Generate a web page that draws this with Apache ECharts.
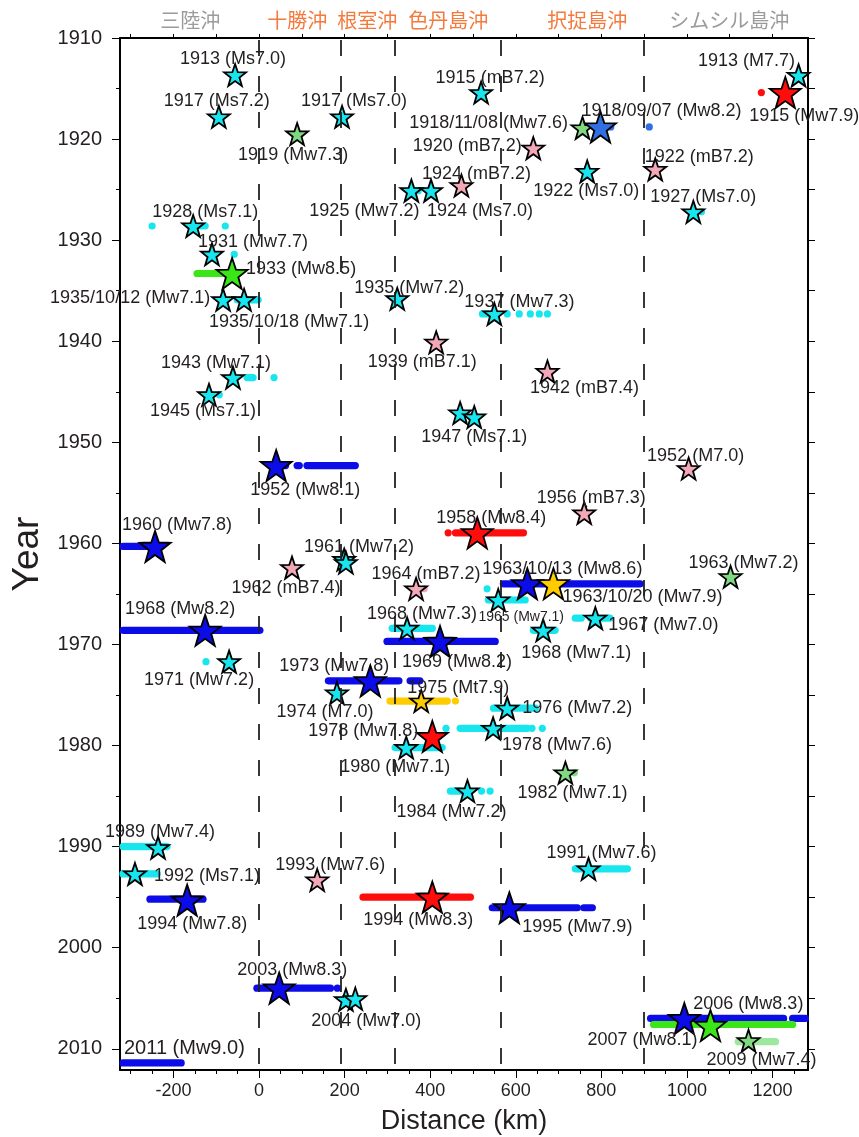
<!DOCTYPE html>
<html>
<head>
<meta charset="utf-8">
<script src="https://cdn.jsdelivr.net/npm/echarts@6/dist/echarts.min.js"></script>
<style>
html, body { margin: 0; padding: 0; background: #fff; }
#chart { width: 859px; height: 1137px; }
</style>
</head>
<body>
<div id="chart"></div>
<script>
// --- data ---
const eventYear = [
  1913.66, 1917.8, 1919.5, 1917.8, 1915.4,
  1918.9, 1918.8, 1920.9, 1923.2, 1923.0,
  1913.7, 1915.4, 1924.6, 1925.1, 1925.1,
  1927.2, 1928.6, 1931.4, 1933.3, 1935.9,
  1935.9, 1935.8, 1937.3, 1940.1, 1943.0,
  1943.6, 1945.3, 1947.1, 1947.5, 1952.3,
  1952.6, 1957.0, 1958.96, 1960.3, 1961.6,
  1961.9, 1962.4, 1964.5, 1964.0, 1964.0,
  1963.3, 1965.6, 1967.4, 1968.6, 1968.4,
  1968.6, 1969.7, 1971.7, 1973.6, 1974.8,
  1975.6, 1976.3, 1979.1, 1978.3, 1980.2,
  1982.7, 1984.5, 1990.1, 1992.7, 1993.3,
  1995.3, 1995.0, 1996.05, 1992.2, 2004.0,
  2005.15, 2005.05, 2007.0, 2007.7, 2009.2
];
const eventDist = [
  -56, -94, 89, 194, 519,
  756, 798, 641, 767, 926,
  1261, 1230, 473, 356, 402,
  1015, -154, -110, -63, -84,
  -35, 323, 550, 414, 674,
  -61, -117, 470, 503, 40,
  1004, 760, 510, -243, 199,
  203, 77, 367, 627, 688,
  1102, 559, 786, 664, 346,
  -126, 423, -70, 260, 182,
  379, 580, 405, 547, 344,
  716, 487, -236, -290, 136,
  -168, 405, 585, 770, 47,
  203, 225, 994, 1055, 1144
];
const eventLabel = [
  '1913 (Ms7.0)', '1917 (Ms7.2)', '1919 (Mw7.3)', '1917 (Ms7.0)', '1915 (mB7.2)',
  '1918/11/08 (Mw7.6)', '1918/09/07 (Mw8.2)', '1920 (mB7.2)', '1922 (Ms7.0)', '1922 (mB7.2)',
  '1913 (M7.7)', '1915 (Mw7.9)', '1924 (mB7.2)', '1925 (Mw7.2)', '1924 (Ms7.0)',
  '1927 (Ms7.0)', '1928 (Ms7.1)', '1931 (Mw7.7)', '1933 (Mw8.5)', '1935/10/12 (Mw7.1)',
  '1935/10/18 (Mw7.1)', '1935 (Mw7.2)', '1937 (Mw7.3)', '1939 (mB7.1)', '1942 (mB7.4)',
  '1943 (Mw7.1)', '1945 (Ms7.1)', '', '1947 (Ms7.1)', '1952 (Mw8.1)',
  '1952 (M7.0)', '1956 (mB7.3)', '1958 (Mw8.4)', '1960 (Mw7.8)', '',
  '1961 (Mw7.2)', '1962 (mB7.4)', '1964 (mB7.2)', '1963/10/13 (Mw8.6)', '1963/10/20 (Mw7.9)',
  '1963 (Mw7.2)', '1965 (Mw7.1)', '1967 (Mw7.0)', '1968 (Mw7.1)', '1968 (Mw7.3)',
  '1968 (Mw8.2)', '1969 (Mw8.2)', '1971 (Mw7.2)', '1973 (Mw7.8)', '1974 (M7.0)',
  '1975 (Mt7.9)', '1976 (Mw7.2)', '1978 (Mw7.8)', '1978 (Mw7.6)', '1980 (Mw7.1)',
  '1982 (Mw7.1)', '1984 (Mw7.2)', '1989 (Mw7.4)', '1992 (Ms7.1)', '1993 (Mw7.6)',
  '1994 (Mw7.8)', '1994 (Mw8.3)', '1995 (Mw7.9)', '1991 (Mw7.6)', '2003 (Mw8.3)',
  '', '2004 (Mw7.0)', '2006 (Mw8.3)', '2007 (Mw8.1)', '2009 (Mw7.4)'
];
const eventGroup = [
  'C', 'C', 'L', 'C', 'C',
  'L', 'B', 'P', 'C', 'P',
  'C', 'R', 'P', 'C', 'C',
  'C', 'C', 'C', 'G', 'C',
  'C', 'C', 'C', 'P', 'P',
  'C', 'C', 'C', 'C', 'D',
  'P', 'P', 'R', 'D', 'C',
  'C', 'P', 'P', 'D', 'Y',
  'L', 'C', 'C', 'C', 'C',
  'D', 'D', 'C', 'D', 'C',
  'Y', 'C', 'R', 'C', 'C',
  'L', 'C', 'C', 'C', 'P',
  'D', 'R', 'D', 'C', 'D',
  'C', 'C', 'D', 'G', 'L'
];

// rupture extents: [from km, to km, year, group]
const ruptures = [
  [812, 822, 1918.8, 'B'], [912, 912, 1918.8, 'B'],
  [1174, 1174, 1915.4, 'R'],
  [365, 372, 1925.1, 'C'],
  [1034, 1034, 1927.2, 'C'],
  [-250, -250, 1928.6, 'C'], [-138, -126, 1928.6, 'C'], [-79, -79, 1928.6, 'C'],
  [-58, -58, 1931.4, 'C'],
  [-145, -79, 1933.3, 'G'],
  [-51, -2, 1935.9, 'C'],
  [522, 550, 1937.3, 'C'], [580, 580, 1937.3, 'C'], [608, 608, 1937.3, 'C'],
  [634, 634, 1937.3, 'C'], [655, 655, 1937.3, 'C'], [674, 674, 1937.3, 'C'],
  [-28, -14, 1943.6, 'C'], [35, 35, 1943.6, 'C'],
  [-93, -93, 1945.3, 'C'],
  [50, 62, 1952.3, 'D'], [89, 94, 1952.3, 'D'], [112, 225, 1952.3, 'D'],
  [442, 442, 1958.96, 'R'], [459, 618, 1958.96, 'R'],
  [-318, -255, 1960.3, 'D'],
  [571, 891, 1964.0, 'D'],
  [386, 386, 1964.5, 'P'],
  [536, 622, 1965.6, 'C'], [533, 533, 1964.5, 'C'],
  [739, 753, 1967.4, 'C'], [775, 820, 1967.4, 'C'],
  [641, 692, 1968.6, 'C'],
  [311, 405, 1968.4, 'C'],
  [-318, 2, 1968.6, 'D'],
  [299, 552, 1969.7, 'D'],
  [-124, -124, 1971.7, 'C'],
  [162, 327, 1973.6, 'D'], [353, 376, 1973.6, 'D'],
  [306, 440, 1975.6, 'Y'], [459, 459, 1975.6, 'Y'],
  [548, 646, 1976.3, 'C'],
  [437, 437, 1978.3, 'C'], [470, 627, 1978.3, 'C'], [638, 638, 1978.3, 'C'], [662, 662, 1978.3, 'C'],
  [318, 428, 1980.2, 'C'],
  [737, 737, 1982.7, 'L'],
  [447, 470, 1984.5, 'C'], [520, 520, 1984.5, 'C'], [540, 540, 1984.5, 'C'],
  [-318, -215, 1990.0, 'C'],
  [-318, -238, 1992.7, 'C'],
  [-255, -131, 1995.2, 'D'],
  [243, 494, 1995.0, 'R'],
  [545, 744, 1996.05, 'D'], [759, 779, 1996.05, 'D'],
  [739, 861, 1992.2, 'C'],
  [-5, 167, 2004.0, 'D'], [183, 183, 2004.0, 'D'],
  [915, 1226, 2007.0, 'D'], [1247, 1277, 2007.0, 'D'],
  [922, 1247, 2007.6, 'G'],
  [1120, 1207, 2009.3, 'LP'],
  [-318, -182, 2011.4, 'D']
];
const tohokuLabel = '2011 (Mw9.0)';

const boundaryKm = [0, 190, 316, 564, 898];
const regionNames = ['三陸沖', '十勝沖', '根室沖', '色丹島沖', '択捉島沖', 'シムシル島沖'];
const regionCenterKm = [-161, 89, 253, 442, 767, 1099];

const distTicks = [-200, 0, 200, 400, 600, 800, 1000, 1200];
const distMinorTicks = [-300, -250, -150, -100, -50, 50, 100, 150, 250, 300, 350, 450, 500, 550,
  650, 700, 750, 850, 900, 950, 1050, 1100, 1150, 1250];
const topTicks = [-300, -200, -100, 0, 100, 200, 300, 400, 500, 600, 700, 800, 900, 1000, 1100, 1200];
const yearTicks = [1910, 1920, 1930, 1940, 1950, 1960, 1970, 1980, 1990, 2000, 2010];
const yearMinorTicks = [1915, 1925, 1935, 1945, 1955, 1965, 1975, 1985, 1995, 2005];
const yearRightTicks = [1910, 1915, 1920, 1925, 1930, 1935, 1940, 1945, 1950, 1955, 1960,
  1965, 1970, 1975, 1980, 1985, 1990, 1995, 2000, 2005, 2010];

// --- styles ---
const groupColor = {
  C: '#18e6ee', L: '#80d980', P: '#f3a8b7', B: '#2f6fe2', D: '#0c0ce8',
  R: '#ff0d0d', G: '#3ae617', Y: '#ffcc00', LP: '#9de89d'
};
// label offsets from the star centre, px
const labelOffset = [
  [-2, -16], [-2, -16], [-4, 21], [12, -16], [9, -15],
  [-94, -5], [61, -16], [-66, -2], [-1, 20], [44, -12],
  [-52, -14], [19, 23], [15, -12], [-47, 20], [49, 20],
  [10, -15], [12, -14], [41, -12], [69, -4], [-93, -2],
  [45, 22], [12, -11], [25, -12], [-14, 20], [37, 16],
  [-17, -15], [-6, 16], [0, 0], [0, 20], [29, 24],
  [7, -13], [7, -15], [14, -15], [22, -21], [0, 0],
  [13, -16], [-6, 20], [10, -15], [35, -15], [89, 13],
  [13, -14], [23, 17], [68, 7], [33, 23], [15, -14],
  [-25, -21], [17, 21], [-30, 18], [-36, -15], [-12, 19],
  [37, -13], [70, 0], [-69, -5], [64, 17], [-11, 19],
  [7, 20], [-16, 21], [2, -16], [72, 2], [13, -15],
  [5, 24], [-14, 23], [68, 19], [13, -16], [13, -18],
  [0, 0], [11, 22], [64, -14], [-68, 15], [13, 19]
];
const TEXT = '#231f20';
const FONT = 'Liberation Sans';
const STAR = 'path://M0,-10L2.35,-3.24L9.51,-3.09L3.8,1.24L5.88,8.09L0,4L-5.88,8.09L-3.8,1.24L-9.51,-3.09L-2.35,-3.24Z';
const X_MIN = -325, X_MAX = 1283, Y_MIN = 1910, Y_MAX = 2012.1;

function starSize(label) {
  const m = /\((Mw|Ms|mB|Mt|M)(\d\.\d)\)/.exec(label);
  if (m && m[1] === 'Mw' && +m[2] >= 7.8) return 31;
  return 22;
}

const starData = eventYear.map((y, i) => ({
  value: [eventDist[i], y],
  symbolSize: starSize(eventLabel[i]),
  itemStyle: { color: groupColor[eventGroup[i]] },
  label: {
    show: eventLabel[i] !== '',
    position: 'inside',
    formatter: eventLabel[i],
    offset: labelOffset[i],
    fontSize: eventLabel[i] === '1965 (Mw7.1)' ? 14 : 18
  }
}));

function renderRupture(params, api) {
  const a = api.coord([api.value(0), api.value(2)]);
  const b = api.coord([api.value(1), api.value(2)]);
  const color = groupColor[ruptures[params.dataIndex][3]];
  if (Math.abs(b[0] - a[0]) < 0.5) {
    return { type: 'circle', shape: { cx: a[0], cy: a[1], r: 3.6 }, style: { fill: color } };
  }
  return {
    type: 'line',
    shape: { x1: a[0], y1: a[1], x2: b[0], y2: b[1] },
    style: { stroke: color, lineWidth: 7.2, lineCap: 'round' }
  };
}

const plain = v => String(v);
const blackLine = { show: true, onZero: false, lineStyle: { color: '#000', width: 2 } };
const gridBox = { left: 120, right: 51, top: 38, bottom: 67, outerBoundsMode: 'none' };

const chart = echarts.init(document.getElementById('chart'), null, { renderer: 'canvas' });

const option = {
  animation: false,
  backgroundColor: '#fff',
  textStyle: { fontFamily: FONT },
  grid: [gridBox, gridBox],
  xAxis: [
    {
      gridIndex: 0, type: 'value', position: 'bottom', min: X_MIN, max: X_MAX,
      name: 'Distance (km)', nameLocation: 'middle', nameGap: 38,
      nameTextStyle: { fontSize: 27, color: TEXT, fontFamily: FONT },
      axisLine: blackLine,
      axisTick: { show: true, customValues: distTicks, length: 8, lineStyle: { color: '#000', width: 1 } },
      axisLabel: { customValues: distTicks, formatter: plain, fontSize: 18, margin: 12, color: TEXT },
      splitLine: { show: false }
    },
    {
      gridIndex: 0, type: 'value', position: 'top', min: X_MIN, max: X_MAX,
      axisLine: blackLine,
      axisTick: { show: true, customValues: topTicks, length: 4, lineStyle: { color: '#000', width: 1 } },
      axisLabel: { show: false },
      splitLine: { show: false }
    },
    {
      gridIndex: 1, type: 'value', position: 'bottom', min: X_MIN, max: X_MAX,
      axisLine: { show: false, onZero: false },
      axisTick: { show: true, customValues: distMinorTicks, length: 4, lineStyle: { color: '#000', width: 1 } },
      axisLabel: { show: false },
      splitLine: { show: false }
    }
  ],
  yAxis: [
    {
      gridIndex: 0, type: 'value', position: 'left', inverse: true, min: Y_MIN, max: Y_MAX,
      name: 'Year', nameLocation: 'middle', nameGap: 72,
      nameTextStyle: { fontSize: 37, color: TEXT, fontFamily: FONT },
      axisLine: blackLine,
      axisTick: { show: true, customValues: yearTicks, length: 8, lineStyle: { color: '#000', width: 1 } },
      axisLabel: { customValues: yearTicks, formatter: plain, fontSize: 20, margin: 18, color: TEXT },
      splitLine: { show: false }
    },
    {
      gridIndex: 0, type: 'value', position: 'right', inverse: true, min: Y_MIN, max: Y_MAX,
      axisLine: blackLine,
      axisTick: { show: true, customValues: yearRightTicks, length: 7, lineStyle: { color: '#000', width: 1 } },
      axisLabel: { show: false },
      splitLine: { show: false }
    },
    {
      gridIndex: 1, type: 'value', position: 'left', inverse: true, min: Y_MIN, max: Y_MAX,
      axisLine: { show: false, onZero: false },
      axisTick: { show: true, customValues: yearMinorTicks, length: 4, lineStyle: { color: '#000', width: 1 } },
      axisLabel: { show: false },
      splitLine: { show: false }
    }
  ],
  series: [
    {
      name: 'rupture',
      type: 'custom',
      xAxisIndex: 0, yAxisIndex: 0,
      renderItem: renderRupture,
      encode: { x: [0, 1], y: 2 },
      data: ruptures.map(r => [r[0], r[1], r[2]]),
      silent: true,
      z: 2,
      markLine: {
        silent: true,
        symbol: ['none', 'none'],
        label: { show: false },
        lineStyle: { color: '#222', width: 1.8, type: [16, 20], dashOffset: 34 },
        data: boundaryKm.map(v => ({ xAxis: v }))
      }
    },
    {
      name: 'events',
      type: 'scatter',
      xAxisIndex: 0, yAxisIndex: 0,
      symbol: STAR,
      itemStyle: { borderColor: '#000', borderWidth: 1.8, opacity: 1 },
      label: { position: 'inside', color: TEXT, fontFamily: FONT, fontSize: 18 },
      emphasis: { disabled: true },
      data: starData,
      z: 4
    },
    {
      name: '2011',
      type: 'scatter',
      xAxisIndex: 0, yAxisIndex: 0,
      symbolSize: 0,
      silent: true,
      itemStyle: { opacity: 1 },
      label: {
        show: true, position: 'inside', align: 'left', offset: [1, -14],
        formatter: tohokuLabel, color: TEXT, fontFamily: FONT, fontSize: 20
      },
      data: [[-318, 2011.4]],
      z: 4
    }
  ]
};

chart.setOption(option);

// region names above the frame
chart.setOption({
  graphic: regionNames.map((name, i) => ({
    type: 'text',
    x: chart.convertToPixel({ xAxisIndex: 0 }, regionCenterKm[i]),
    y: 20,
    style: {
      text: name,
      fill: (i === 0 || i === regionNames.length - 1) ? '#9b9b9b' : '#f37a3c',
      fontSize: 20,
      fontFamily: 'Noto Sans CJK JP',
      align: 'center',
      verticalAlign: 'middle'
    }
  }))
});

window.addEventListener('resize', chart.resize);
</script>
</body>
</html>
